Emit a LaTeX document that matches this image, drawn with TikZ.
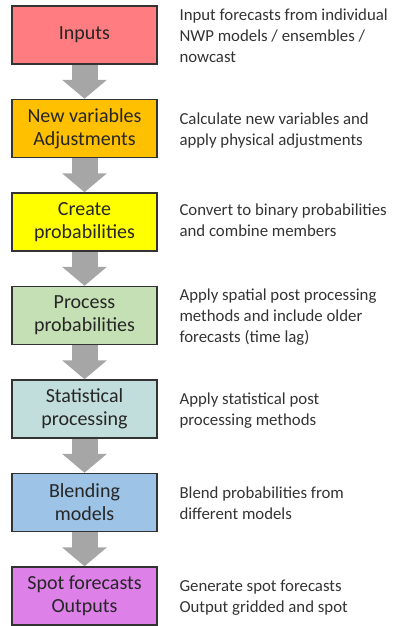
\documentclass[tikz,border=0pt]{standalone}
\usepackage{fontspec}
\setmainfont{Carlito}
\usetikzlibrary{arrows.meta}

\definecolor{inputsred}{HTML}{FF7C80}
\definecolor{newvarorange}{HTML}{FFC000}
\definecolor{createyellow}{HTML}{FFFF00}
\definecolor{processgreen}{HTML}{C5E0B4}
\definecolor{statsteal}{HTML}{C2DEDC}
\definecolor{blendblue}{HTML}{9DC3E6}
\definecolor{spotviolet}{HTML}{DD80E8}

\begin{document}
\begin{tikzpicture}[x=1pt, y=-1pt,
    stage/.style={rectangle, draw=black!80, line width=1.5pt, minimum width=145pt, minimum height=58pt, align=center, text=black!85, font=\fontsize{20}{23}\selectfont},
    note/.style={anchor=west, align=left, text=black!80, font=\fontsize{16.8}{21}\selectfont},
    flow/.style={line width=26pt, draw=black!35, -{Triangle[width=44pt,length=19pt]}}]
    \useasboundingbox (0,0) rectangle (394,626);

    % Processing chain, one box per stage
    \node[stage, fill=inputsred] (inputs) at (84.5,35) {Inputs};
    \node[stage, fill=newvarorange] (newvars) at (84.5,128.5) {New variables\\Adjustments};
    \node[stage, fill=createyellow] (create) at (84.5,222) {Create\\probabilities};
    \node[stage, fill=processgreen] (process) at (84.5,315.5) {Process\\probabilities};
    \node[stage, fill=statsteal] (stats) at (84.5,409) {Statistical\\processing};
    \node[stage, fill=blendblue] (blend) at (84.5,502.5) {Blending\\models};
    \node[stage, fill=spotviolet] (spot) at (84.5,596) {Spot forecasts\\Outputs};

    % Grey block arrows between the stages
    \draw[flow] (inputs) -- (newvars);
    \draw[flow] (newvars) -- (create);
    \draw[flow] (create) -- (process);
    \draw[flow] (process) -- (stats);
    \draw[flow] (stats) -- (blend);
    \draw[flow] (blend) -- (spot);

    % Descriptions to the right
    \node[note] (inputsnote) at (176,36) {Input forecasts from individual\\NWP models / ensembles /\\nowcast};
    \node[note] (newvarsnote) at (176,131) {Calculate new variables and\\apply physical adjustments};
    \node[note] (createnote) at (176,220) {Convert to binary probabilities\\and combine members};
    \node[note] (processnote) at (176,317) {Apply spatial post processing\\methods and include older\\forecasts (time lag)};
    \node[note] (statsnote) at (176,411) {Apply statistical post\\processing methods};
    \node[note] (blendnote) at (176,503) {Blend probabilities from\\different models};
    \node[note] (spotnote) at (176,598) {Generate spot forecasts\\Output gridded and spot};
\end{tikzpicture}
\end{document}
